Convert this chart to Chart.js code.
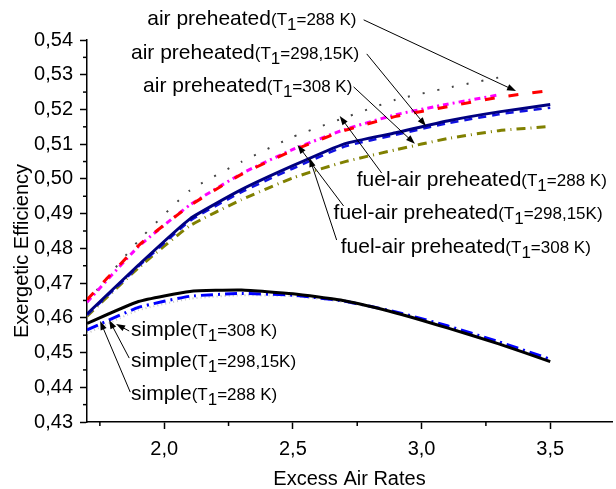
<!DOCTYPE html>
<html>
<head>
<meta charset="utf-8">
<script src="https://cdn.jsdelivr.net/npm/chart.js@4"></script>
<style>
  body { margin: 0; background: #fff; }
  #wrap { width: 616px; height: 489px; }
</style>
</head>
<body>
<div id="wrap"><canvas id="effChart" width="616" height="489"></canvas></div>
<script>
// Excess air rates (x values)
const excessAir = [1.7, 1.9, 2.1, 2.3, 2.5, 2.7, 2.9, 3.1, 3.3, 3.5];

// Air preheated cycles
const airPre288 = [0.4652, 0.4808, 0.4923, 0.5013, 0.5082, 0.5139, 0.5180, 0.5208, 0.5235, 0.5255];
const airPre298 = [0.4645, 0.4805, 0.4925, 0.5015, 0.5085, 0.5142, 0.5185, 0.5215, 0.5242, null];
const airPre308 = [0.4646, 0.4822, 0.4967, 0.5049, 0.5121, 0.5176, 0.5228, 0.5262, 0.5292, null];

// Fuel-air preheated cycles
const fuelAir288 = [0.4611, 0.4752, 0.4885, 0.4969, 0.5038, 0.5101, 0.5133, 0.5167, 0.5193, 0.5214];
const fuelAir298 = [0.4608, 0.4748, 0.4879, 0.4962, 0.5030, 0.5093, 0.5127, 0.5160, 0.5186, 0.5205];
const fuelAir308 = [0.4605, 0.4744, 0.4865, 0.4940, 0.5003, 0.5049, 0.5084, 0.5116, 0.5139, 0.5151];

// Simple cycles
const simple288 = [0.4584, 0.4647, 0.4676, 0.4680, 0.4669, 0.4649, 0.4614, 0.4571, 0.4525, 0.4474];
const simple298 = [0.4565, 0.4630, 0.4662, 0.4670, 0.4665, 0.4648, 0.4617, 0.4577, 0.4531, 0.4481];
const simple308 = [0.4555, 0.4622, 0.4655, 0.4665, 0.4662, 0.4645, 0.4615, 0.4575, 0.4528, 0.4478];

// Tick values
const xMajor = [2.0, 2.5, 3.0, 3.5];
const xMinor = [1.75, 2.25, 2.75, 3.25];
const yMajor = [0.43, 0.44, 0.45, 0.46, 0.47, 0.48, 0.49, 0.50, 0.51, 0.52, 0.53, 0.54];
const yMinor = [0.435, 0.445, 0.455, 0.465, 0.475, 0.485, 0.495, 0.505, 0.515, 0.525, 0.535];

// Callout labels: text anchor, arrow start, arrow head (in data units)
const callouts = [
  { main: 'air preheated', temp: '=288 K)', at: [1.934, 0.5460], from: [2.775, 0.5458], to: [3.367, 0.5253] },
  { main: 'air preheated', temp: '=298,15K)', at: [1.871, 0.5362], from: [2.787, 0.5360], to: [3.017, 0.5152] },
  { main: 'air preheated', temp: '=308 K)', at: [1.918, 0.5267], from: [2.736, 0.5265], to: [2.974, 0.5101] },
  { main: 'fuel-air preheated', temp: '=288 K)', at: [2.748, 0.4997], from: [2.845, 0.5017], to: [2.682, 0.5181] },
  { main: 'fuel-air preheated', temp: '=298,15K)', at: [2.658, 0.4902], from: [2.697, 0.4922], to: [2.518, 0.5098] },
  { main: 'fuel-air preheated', temp: '=308 K)', at: [2.686, 0.4804], from: [2.670, 0.4824], to: [2.565, 0.5060] },
  { main: 'simple', temp: '=308 K)', at: [1.871, 0.4565], from: [1.864, 0.4562], to: [1.813, 0.4582] },
  { main: 'simple', temp: '=298,15K)', at: [1.871, 0.4476], from: [1.864, 0.4484], to: [1.786, 0.4594] },
  { main: 'simple', temp: '=288 K)', at: [1.871, 0.4381], from: [1.868, 0.4386], to: [1.751, 0.4591] }
];

const FONT = "'Liberation Sans', Arial, sans-serif";

function toPoints(values) {
  return excessAir.map((x, i) => ({ x: x, y: values[i] }));
}

function drawArrow(ctx, x1, y1, x2, y2) {
  const ang = Math.atan2(y2 - y1, x2 - x1);
  const len = 9, half = 3.2;
  ctx.beginPath();
  ctx.moveTo(x1, y1);
  ctx.lineTo(x2 - Math.cos(ang) * len * 0.8, y2 - Math.sin(ang) * len * 0.8);
  ctx.stroke();
  ctx.beginPath();
  ctx.moveTo(x2, y2);
  ctx.lineTo(x2 - Math.cos(ang) * len - Math.sin(ang) * half, y2 - Math.sin(ang) * len + Math.cos(ang) * half);
  ctx.lineTo(x2 - Math.cos(ang) * len + Math.sin(ang) * half, y2 - Math.sin(ang) * len - Math.cos(ang) * half);
  ctx.closePath();
  ctx.fill();
}

const extrasPlugin = {
  id: 'extras',
  afterDraw(chart) {
    const ctx = chart.ctx;
    const xs = chart.scales.x, ys = chart.scales.y;
    ctx.save();
    ctx.strokeStyle = '#000';
    ctx.fillStyle = '#000';
    ctx.lineWidth = 1.5;

    // minor ticks
    xMinor.forEach(v => {
      const px = xs.getPixelForValue(v);
      ctx.beginPath(); ctx.moveTo(px, ys.bottom); ctx.lineTo(px, ys.bottom + 4); ctx.stroke();
    });
    yMinor.forEach(v => {
      const py = ys.getPixelForValue(v);
      ctx.beginPath(); ctx.moveTo(xs.left, py); ctx.lineTo(xs.left - 4, py); ctx.stroke();
    });

    // y axis title
    ctx.save();
    ctx.translate(22, 251);
    ctx.rotate(-Math.PI / 2);
    ctx.font = '20px ' + FONT;
    ctx.textAlign = 'center';
    ctx.textBaseline = 'middle';
    ctx.fillText('Exergetic Efficiency', 0, 0);
    ctx.restore();

    // callouts
    ctx.lineWidth = 1;
    callouts.forEach(c => {
      let px = xs.getPixelForValue(c.at[0]);
      const py = ys.getPixelForValue(c.at[1]);
      ctx.textAlign = 'left';
      ctx.textBaseline = 'middle';
      ctx.font = '21px ' + FONT;
      ctx.fillText(c.main, px, py);
      px += ctx.measureText(c.main).width;
      ctx.font = '17px ' + FONT;
      ctx.fillText('(T', px, py + 1);
      px += ctx.measureText('(T').width;
      ctx.fillText('1', px, py + 6);
      px += ctx.measureText('1').width;
      ctx.fillText(c.temp, px, py + 1);
      drawArrow(ctx,
        xs.getPixelForValue(c.from[0]), ys.getPixelForValue(c.from[1]),
        xs.getPixelForValue(c.to[0]), ys.getPixelForValue(c.to[1]));
    });
    ctx.restore();
  }
};

function lineSet(label, values, color, width, dash) {
  return {
    label: label,
    data: toPoints(values),
    borderColor: color,
    borderWidth: width,
    borderDash: dash,
    borderCapStyle: 'butt',
    pointRadius: 0,
    fill: false,
    tension: 0.15
  };
}

const ctx = document.getElementById('effChart').getContext('2d');
new Chart(ctx, {
  type: 'line',
  data: {
    datasets: [
      lineSet('air preheated (T1=288 K)', airPre288, '#ff0000', 3, [10, 14]),
      lineSet('air preheated (T1=298,15K)', airPre298, '#ff00ff', 3, [6, 4, 2, 4]),
      lineSet('air preheated (T1=308 K)', airPre308, '#444444', 2, [2, 13]),
      lineSet('fuel-air preheated (T1=288 K)', fuelAir288, '#000080', 3, []),
      lineSet('fuel-air preheated (T1=298,15K)', fuelAir298, '#1010e0', 2.5, [8, 6]),
      lineSet('fuel-air preheated (T1=308 K)', fuelAir308, '#808000', 3, [9, 5, 1, 5]),
      lineSet('simple (T1=288 K)', simple288, '#000000', 3, []),
      lineSet('simple (T1=298,15K)', simple298, '#0000ff', 3, [12, 5, 2, 5]),
      lineSet('simple (T1=308 K)', simple308, '#c8c8c8', 2, [1, 3])
    ]
  },
  options: {
    responsive: false,
    animation: false,
    layout: { padding: { left: 0, top: 40, right: 4, bottom: 0 } },
    plugins: {
      legend: { display: false },
      tooltip: { enabled: false }
    },
    scales: {
      x: {
        type: 'linear',
        min: 1.7,
        max: 3.74,
        afterFit: scale => { scale.height = 67; },
        afterBuildTicks: scale => { scale.ticks = xMajor.map(v => ({ value: v })); },
        ticks: {
          color: '#000',
          font: { family: FONT, size: 20 },
          padding: 8,
          maxRotation: 0,
          autoSkip: false,
          callback: v => v.toFixed(1).replace('.', ',')
        },
        grid: { drawOnChartArea: false, tickLength: 7, tickWidth: 1.5, tickColor: '#000' },
        border: { color: '#000', width: 1.5 },
        title: {
          display: true,
          text: 'Excess Air Rates',
          color: '#000',
          font: { family: FONT, size: 20, lineHeight: 1 },
          padding: { top: 0, bottom: 0 }
        }
      },
      y: {
        min: 0.43,
        max: 0.54,
        afterFit: scale => { scale.width = 87; },
        afterBuildTicks: scale => { scale.ticks = yMajor.map(v => ({ value: v })); },
        ticks: {
          color: '#000',
          font: { family: FONT, size: 20 },
          padding: 7,
          autoSkip: false,
          callback: v => v.toFixed(2).replace('.', ',')
        },
        grid: { drawOnChartArea: false, tickLength: 7, tickWidth: 1.5, tickColor: '#000' },
        border: { color: '#000', width: 1.5 }
      }
    }
  },
  plugins: [extrasPlugin]
});
</script>
</body>
</html>
